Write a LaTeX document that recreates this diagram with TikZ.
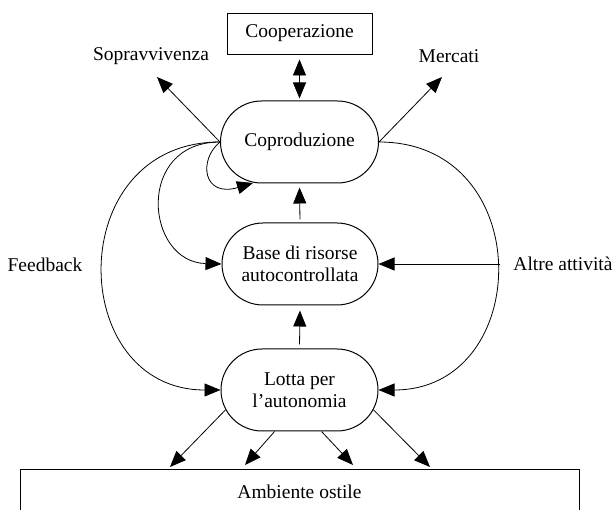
\documentclass[tikz,border=0pt]{standalone}
\usepackage{fontspec}
\setmainfont{Liberation Serif}
\usetikzlibrary{arrows.meta,shapes.misc}
\begin{document}
\begin{tikzpicture}[x=1pt,y=-1pt,
  font=\fontsize{19.5}{22}\selectfont,
  line width=0.8pt,
  pill/.style={rounded rectangle, draw, line width=1pt, minimum width=158pt,
    minimum height=82pt, inner sep=0pt, align=center},
  boxnode/.style={rectangle, draw, line width=0.9pt, inner sep=0pt, align=center},
  lbl/.style={inner sep=0pt},
  tip/.tip={Triangle[length=16pt,width=13pt]},
  arr/.style={-tip},
  darr/.style={tip-tip},
]
\clip (0,0) rectangle (614,510);

% main blocks
\node[boxnode, minimum width=145pt, minimum height=41pt] (coop) at (299.5,33.5) {Cooperazione};
\node[pill] (copro) at (299.5,142) {Coproduzione};
\node[pill, minimum width=156pt] (base) at (300,264) {Base di risorse\\autocontrollata};
\node[pill, minimum width=157pt] (lotta) at (299.5,390) {Lotta per\\l’autonomia};
\node[boxnode, anchor=north, minimum width=559pt, minimum height=44pt] (amb) at (299.5,469) {Ambiente ostile};

% side labels
\node[lbl] (sopr) at (151,56) {Sopravvivenza};
\node[lbl] (merc) at (449,56) {Mercati};
\node[lbl] (feed) at (45,265) {Feedback};
\node[lbl] (altre) at (563,264) {Altre attività};

% free ends of connectors
\coordinate (sopr-tip) at (157,77);
\coordinate (merc-tip) at (442,77);
\coordinate (altre-in) at (499.5,264);
\coordinate (loop-tip) at (253,183);
\coordinate (a1) at (170,467);
\coordinate (a2) at (245,465);
\coordinate (a3) at (353,465);
\coordinate (a4) at (430,467);

% vertical links
\draw[darr, shorten <=5pt, shorten >=2pt] (coop.south) -- (copro.north);
\draw[arr, shorten <=3pt, shorten >=4pt] (base.north) -- (copro.south);
\draw[arr, shorten <=4pt, shorten >=5pt] (lotta.north) -- (base.south);

% outputs of coproduction
\draw[arr] (copro.west) -- (sopr-tip);
\draw[arr] (copro.east) -- (merc-tip);

% feedback loops
\draw[arr] (copro.west) .. controls (198,160) and (203,198) .. (loop-tip);
\draw[arr] (copro.west) .. controls (135,142) and (145,262) .. (base.west);
\draw[arr] (copro.west) .. controls (62,142) and (66,390) .. (lotta.west);
\draw[arr] (copro.east) .. controls (538,142) and (534,390) .. (lotta.east);
\draw[arr] (altre-in) -- (base.east);

% pressure on the environment
\draw[arr] (lotta.195) -- (a1);
\draw[arr] (lotta.239) -- (a2);
\draw[arr] (lotta.298) -- (a3);
\draw[arr] (lotta.345) -- (a4);
\end{tikzpicture}
\end{document}
